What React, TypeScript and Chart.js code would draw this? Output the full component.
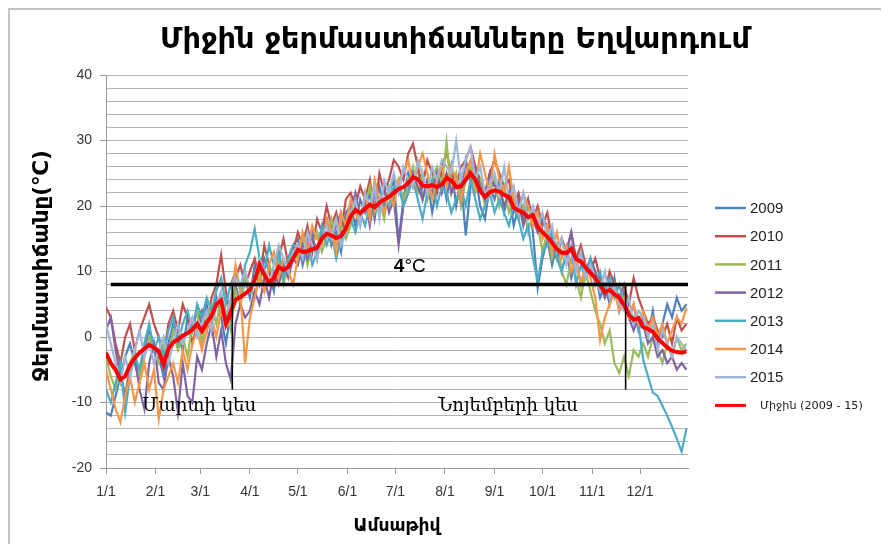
import React, { useEffect, useRef } from "react";
import { Chart, registerables } from "chart.js";

Chart.register(...registerables);

// ---------- data ----------
const SAMPLE_STEP_DAYS = 3;
const YEAR_END_DAY = 364;
const MONTH_LABELS = ["1/1", "2/1", "3/1", "4/1", "5/1", "6/1", "7/1", "8/1", "9/1", "10/1", "11/1", "12/1"];
const MONTH_START_DAYS = [0, 31, 59, 90, 120, 151, 181, 212, 243, 273, 304, 334];
const Y_MIN = -20;
const Y_MAX = 40;
const Y_STEP = 2;
const Y_LABEL_STEP = 10;

const SERIES_LABELS = ["2009", "2010", "2011", "2012", "2013", "2014", "2015"];
const SERIES_COLORS = ["#4F81BD", "#C0504D", "#9BBB59", "#8064A2", "#4BACC6", "#F79646", "#A0B7D9"];
const AVG_LABEL = "Միջին (2009 - 15)";
const AVG_COLOR = "#FF0000";

const T2009 = [
  -11.5, -12, -9, -6, -3, -1, -4, -7, -2, 1, -1,
  -3, -6, -1, 2, 0, -2, 3, 1, 4,
  2, 5, 1, 6, 3, -1, 4, 8, 5, 9,
  6, 11, 8, 12, 10, 7, 13, 9, 12, 14,
  15, 11, 14, 16, 12, 17, 18, 14, 16, 13, 19,
  20, 17, 21, 19, 22, 18, 23, 20, 22, 24,
  14.5, 21, 25, 23, 26, 21, 24, 19, 23, 25,
  21, 26, 20, 24, 15.5, 23, 25, 20, 18, 23, 21,
  24, 19, 22, 17, 20, 18, 21, 16, 7.5, 12,
  15, 11, 14, 10, 13, 9, 12, 8, 11, 10,
  10, 6, 8, 5, 9, 4, 7, 3, 5, 1,
  3, 0, 4, -1, 2, 5, 3, 6, 4, 5,
];
const T2010 = [
  4.5, 3, -1, -4, 0, 2, -2, 1, 3, 5, 2,
  0, -3, 2, 4, 1, 5, 3, -1, 2,
  4, 1, 6, 8, 12.5, 7, 3, 9, 11, 8,
  10, 12, 9, 14, 11, 8, 12, 15, 11, 13,
  16, 14, 17, 13, 18, 16, 20, 17, 19, 16, 21,
  22, 20, 23, 21, 24, 19, 25, 22, 24, 27,
  26, 24, 28, 29.5, 26, 23, 27, 25, 22, 26,
  28, 25, 23, 26, 27, 29, 26, 24, 22, 25, 27,
  25, 23, 24, 20, 22, 19, 21, 18, 20, 17,
  19, 15, 12, 15, 13, 16, 12, 14, 11, 10,
  12, 9, 7, 10, 8, 6, 8, 5, 9, 6,
  4, 2, 3, 1, 0, 2, -1, 3, 1, 2,
];
const T2011 = [
  -3, -6, -8, -5, -9, -4, -2, -6, -3, 0, -2,
  -4, -1, -3, 1, -2, 0, -3, 2, 4,
  -1, 3, 5, 2, 6, 4, 1, 7, 5, 9,
  8, 6, 10, 7, 11, 9, 12, 8, 11, 13,
  12, 15, 11, 14, 16, 13, 15, 18, 14, 17, 15,
  17, 21, 18, 20, 23, 19, 21, 18, 23, 21,
  24, 21, 23, 26, 22, 25, 21, 24, 26, 23,
  29.8, 22, 25, 20, 24, 26, 22, 24, 20, 22, 24,
  20, 23, 19, 21, 18, 20, 16, 19, 17, 13,
  16, 12, 14, 10, 8, 12, 9, 6, 10, 7,
  4, 2, -1, 1, -4, -5.5, -3, -6, -2, -3,
  -1, -3, 0, -2, -4, -1, -3, 0, -2, -1,
];
const T2012 = [
  1, 3, -2, -6, -9, -5, -3, -8, -11, -4, -1,
  -7, -8, -3, -6, -11.5, -4, -9, -10, -3,
  -5, -1, 2, -3, 1, -4, -6.5, 2, 5, 3,
  4, 7, 5, 9, 6, 10, 8, 11, 9, 12,
  11, 14, 12, 15, 13, 16, 18, 15, 17, 19, 16,
  19, 22, 18, 21, 17, 22, 20, 23, 19, 21,
  14, 20, 22, 25, 23, 21, 24, 22, 25, 22,
  25, 22, 24, 21, 27, 24, 26, 23, 21, 25, 23,
  23, 20, 22, 19, 21, 17, 20, 18, 16, 18,
  17, 14, 12, 15, 13, 16, 11, 13, 10, 12,
  10, 8, 6, 8, 7, 5, 6, 3, 1, 3,
  2, -1, 0, -3, -2, -4, -3, -5, -4, -5,
];
const T2013 = [
  -8, -10, -7, -4, -11.5, -6, -3, -5, -1, 2, -2,
  0, -3, 1, 3, -1, 2, 4, 1, 5,
  3, 6, 4, 7, 9, 5, 8, 10, 7, 11,
  13, 16.5, 12, 10, 14, 11, 13, 9, 12, 14,
  14, 12, 15, 11, 13, 17, 14, 16, 12, 15, 17,
  18, 16, 19, 17, 20, 22, 19, 21, 20, 23,
  23, 20, 22, 24, 21, 18, 22, 24, 20, 23,
  22, 19, 21, 23, 20, 24, 21, 18, 20, 22, 19,
  21, 19, 17, 20, 18, 15, 17, 12, 8.5, 13,
  14, 16, 12, 10, 13, 14, 8, 11, 9, 12,
  8, 10, 7, 9, 6, 8, 5, 4, 3, 2,
  -3.5, -6, -8.5, -9, -10.5, -12, -13.7, -15.5, -17.5, -14,
];
const T2014 = [
  -5, -8, -11, -13, -9, -6, -10, -7, -4, -8, -5,
  -12.5, -8, -6, -4, -7, -2, -5, -1, 1,
  -2, 1, 3, 0, 4, 2, 5, 11, 7, -4,
  3, 6, 9, 7, 11, 13, 9, 12, 10, 8,
  12, 16, 13, 17, 15, 14, 18, 16, 13, 19, 17,
  21, 19, 17, 22, 18, 24, 21, 19, 22, 20,
  24, 25, 27, 23, 26, 28, 25, 21, 24, 26,
  23, 26, 24, 21, 25, 27, 23, 28, 25, 22, 28,
  24, 22, 26, 21, 19, 22, 20, 17, 19, 15,
  17, 13, 16, 12, 14, 10, 12, 8, 11, 9,
  6, -0.5, 3, 5, 7, 4, 6, 3, 5, 2,
  4, 1, 3, 0, 2, -1, 1, 3, 2, 4.5,
];
const T2015 = [
  2, -1, -4, -7, -3, -6, -2, 1, -3, -1, -4,
  -2, 0, -4, -1, 2, -1, 1, 3, 0,
  2, 4, 1, 5, 7, 3, 6, 9, 8, 10,
  7, 9, 12, 10, 8, 11, 14, 12, 10, 13,
  14, 12, 16, 14, 12, 15, 17, 15, 18, 14, 16,
  19, 21, 17, 22, 20, 23, 18, 24, 22, 25,
  22, 26, 24, 23, 27, 25, 22, 26, 24, 27,
  26, 25, 30, 24, 27, 29, 24, 26, 22, 23, 25,
  22, 26, 21, 23, 19, 22, 18, 20, 17, 19,
  15, 17, 13, 15, 11, 14, 10, 13, 9, 11,
  9, 7, 10, 6, 8, 5, 4, 6, 2, 4,
  3, 0, 2, -2, 1, -1, -3, 0, -1, -2,
];
const T_AVG = [
  -2.4, -4.0, -5.0, -6.5, -6.0, -4.3, -3.2, -2.4, -1.8, -1.2, -1.6,
  -2.2, -4.2, -1.8, -0.8, -0.4, 0.2, 0.6, 1.1, 2.0,
  0.9, 2.2, 3.2, 5.0, 5.6, 2.0, 3.8, 5.7, 6.1, 6.6,
  7.2, 8.7, 11.0, 9.5, 8.3, 9.0, 10.7, 10.2, 10.7, 12.0,
  13.3, 13.0, 13.1, 13.4, 13.6, 15.0, 15.8, 15.5, 15.1, 15.4, 16.5,
  18.4, 19.4, 18.9, 19.6, 20.2, 19.8, 20.5, 21.0, 21.4, 22.0,
  22.6, 22.9, 23.5, 24.4, 24.1, 23.1, 23.0, 23.2, 22.9, 23.3,
  24.3, 23.9, 22.9, 23.0, 24.0, 25.0, 24.0, 22.3, 21.4, 22.1, 22.4,
  22.2, 21.7, 21.4, 19.8, 19.3, 19.0, 18.3, 18.6, 16.8, 16.0,
  15.3, 14.4, 13.4, 12.9, 12.8, 13.5, 11.9, 11.5, 10.6, 9.8,
  9.0, 7.9, 6.8, 7.2, 6.5, 6.0, 4.9, 3.4, 2.6, 2.9,
  1.5, 1.2, 0.8, -0.2, -0.9, -1.6, -2.1, -2.3, -2.4, -2.2,
];
const YEAR_SERIES = [T2009, T2010, T2011, T2012, T2013, T2014, T2015];

// reference markers
const THRESHOLD_TEMP = 8;
const THRESHOLD_START_DAY = 3;
const MARCH_MID_DAY = 79;
const NOV_MID_DAY = 325;
const MARKER_BOTTOM_TEMP = -8;

// texts
const TITLE = "Միջին ջերմաստիճանները Եղվարդում";
const Y_TITLE = "Ջերմաստիճանը(℃)";
const X_TITLE = "Ամսաթիվ";
const THRESHOLD_TEXT_BOLD = "4";
const THRESHOLD_TEXT_REST = "°C";
const THRESHOLD_TEXT_POS = { day: 190, temp: 9.9 };
const MARKER_TEXTS = [
  { text: "Մարտի կես", day: 58.3, temp: -11.3, width: 114 },
  { text: "Նոյեմբերի կես", day: 251.4, temp: -11.3, width: 140 },
];

const SANS = "'Liberation Sans', Arial, 'DejaVu Sans', sans-serif";
const ARM_SANS = "'DejaVu Sans', sans-serif";
const ARM_SERIF = "'DejaVu Serif', 'DejaVu Sans', serif";

const toPoints = (values: number[]) => values.map((v, i) => ({ x: i * SAMPLE_STEP_DAYS, y: v }));

function fitSize(ctx: CanvasRenderingContext2D, text: string, weight: string, family: string, target: number) {
  ctx.font = `${weight} 20px ${family}`;
  const w = ctx.measureText(text).width;
  return (20 * target) / w;
}

const decorPlugin = {
  id: "decor",
  afterDraw(chart: any) {
    const { ctx, chartArea, scales } = chart;
    const xs = scales.x;
    const ys = scales.y;
    ctx.save();
    ctx.fillStyle = "#000";

    // title
    let s = fitSize(ctx, TITLE, "bold", ARM_SANS, 590);
    ctx.font = `bold ${s}px ${ARM_SANS}`;
    ctx.textAlign = "center";
    ctx.textBaseline = "alphabetic";
    ctx.fillText(TITLE, 445, 38);

    // y title
    s = fitSize(ctx, Y_TITLE, "bold", ARM_SANS, 232);
    ctx.save();
    ctx.translate(38, 256);
    ctx.rotate(-Math.PI / 2);
    ctx.font = `bold ${s}px ${ARM_SANS}`;
    ctx.textAlign = "center";
    ctx.fillText(Y_TITLE, 0, 0);
    ctx.restore();

    // x title
    s = fitSize(ctx, X_TITLE, "bold", ARM_SANS, 87);
    ctx.font = `bold ${s}px ${ARM_SANS}`;
    ctx.textAlign = "center";
    ctx.fillText(X_TITLE, (chartArea.left + chartArea.right) / 2, 521);

    // threshold text
    ctx.font = `bold 19px ${SANS}`;
    const w1 = ctx.measureText(THRESHOLD_TEXT_BOLD).width;
    ctx.font = `19px ${SANS}`;
    const w2 = ctx.measureText(THRESHOLD_TEXT_REST).width;
    const cx = xs.getPixelForValue(THRESHOLD_TEXT_POS.day);
    const by = ys.getPixelForValue(THRESHOLD_TEXT_POS.temp);
    const startX = cx - (w1 + w2) / 2;
    ctx.textAlign = "left";
    ctx.font = `bold 19px ${SANS}`;
    ctx.fillText(THRESHOLD_TEXT_BOLD, startX, by);
    ctx.font = `19px ${SANS}`;
    ctx.fillText(THRESHOLD_TEXT_REST, startX + w1, by);

    // marker texts
    for (const m of MARKER_TEXTS) {
      const fs = fitSize(ctx, m.text, "normal", ARM_SERIF, m.width);
      ctx.font = `normal ${fs}px ${ARM_SERIF}`;
      ctx.textAlign = "center";
      ctx.fillText(m.text, xs.getPixelForValue(m.day), ys.getPixelForValue(m.temp));
    }

    // legend
    const lx = chartArea.right + 27;
    const top = 198;
    const gap = 28.2;
    const entries = chart.data.datasets.filter((d: any) => d.showInLegend);
    entries.sort((a: any, b: any) => a.legendIndex - b.legendIndex);
    entries.forEach((d: any, i: number) => {
      const y = top + i * gap;
      ctx.strokeStyle = d.borderColor;
      ctx.lineWidth = d.legendIndex === 7 ? 3 : 2.5;
      ctx.beginPath();
      ctx.moveTo(lx, y);
      ctx.lineTo(lx + 31, y);
      ctx.stroke();
      ctx.fillStyle = "#222";
      ctx.textAlign = "left";
      ctx.textBaseline = "middle";
      if (d.legendIndex === 7) {
        const fs = fitSize(ctx, d.label, "normal", ARM_SANS, 103);
        ctx.font = `${fs}px ${ARM_SANS}`;
        ctx.fillText(d.label, lx + 45, y + 1);
      } else {
        ctx.font = `15px ${SANS}`;
        ctx.fillText(d.label, lx + 35, y + 1);
      }
    });
    ctx.restore();
  },
};

export default function App() {
  const ref = useRef<HTMLCanvasElement>(null);
  useEffect(() => {
    const canvas = ref.current!;
    const yearSets = YEAR_SERIES.map((vals, k) => ({
      label: SERIES_LABELS[k],
      data: toPoints(vals),
      borderColor: SERIES_COLORS[k],
      backgroundColor: SERIES_COLORS[k],
      borderWidth: 2.2,
      pointRadius: 0,
      tension: 0,
      fill: false,
      order: 8 - k,
      showInLegend: true,
      legendIndex: k,
    }));
    const avgSet = {
      label: AVG_LABEL,
      data: toPoints(T_AVG),
      borderColor: AVG_COLOR,
      backgroundColor: AVG_COLOR,
      borderWidth: 4,
      pointRadius: 0,
      tension: 0,
      fill: false,
      order: 1,
      showInLegend: true,
      legendIndex: 7,
    };
    const refLine = (pts: { x: number; y: number }[], w: number) => ({
      label: "",
      data: pts,
      borderColor: "#000",
      backgroundColor: "#000",
      borderWidth: w,
      pointRadius: 0,
      tension: 0,
      fill: false,
      order: 0,
      showInLegend: false,
    });
    const chart = new Chart(canvas, {
      type: "line",
      data: {
        datasets: [
          ...yearSets,
          avgSet,
          refLine([{ x: THRESHOLD_START_DAY, y: THRESHOLD_TEMP }, { x: YEAR_END_DAY, y: THRESHOLD_TEMP }], 3.5),
          refLine([{ x: MARCH_MID_DAY, y: THRESHOLD_TEMP }, { x: MARCH_MID_DAY, y: MARKER_BOTTOM_TEMP }], 1.6),
          refLine([{ x: NOV_MID_DAY, y: THRESHOLD_TEMP }, { x: NOV_MID_DAY, y: MARKER_BOTTOM_TEMP }], 1.6),
        ] as any,
      },
      options: {
        responsive: true,
        maintainAspectRatio: false,
        animation: false,
        layout: { padding: { left: 0, right: 201, top: 65, bottom: 0 } },
        plugins: {
          legend: { display: false },
          title: { display: false },
          tooltip: { enabled: false },
        },
        scales: {
          x: {
            type: "linear",
            min: 0,
            max: YEAR_END_DAY,
            afterBuildTicks: (s: any) => {
              s.ticks = MONTH_START_DAYS.map((v) => ({ value: v }));
            },
            afterFit: (s: any) => {
              s.height = 76;
            },
            ticks: {
              autoSkip: false,
              maxRotation: 0,
              minRotation: 0,
              padding: 10,
              color: "#333",
              font: { family: SANS, size: 14 },
              callback: (v: any) => {
                const idx = MONTH_START_DAYS.indexOf(Number(v));
                return idx >= 0 ? MONTH_LABELS[idx] : "";
              },
            },
            grid: { display: true, drawOnChartArea: false, drawTicks: true, tickLength: 6, color: "#9a9a9a", tickColor: "#9a9a9a" },
            border: { display: true, color: "#9a9a9a", width: 1 },
          },
          y: {
            min: Y_MIN,
            max: Y_MAX,
            afterFit: (s: any) => {
              s.width = 96;
            },
            ticks: {
              stepSize: Y_STEP,
              autoSkip: false,
              padding: 8,
              color: "#333",
              font: { family: SANS, size: 14 },
              callback: (v: any) => (Number(v) % Y_LABEL_STEP === 0 ? String(v) : ""),
            },
            grid: {
              color: "#b4b4b4",
              lineWidth: 1,
              tickLength: 6,
              tickColor: (c: any) => (c.tick && c.tick.value % Y_LABEL_STEP === 0 ? "#9a9a9a" : "rgba(0,0,0,0)"),
            },
            border: { display: true, color: "#9a9a9a", width: 1 },
          },
        },
      } as any,
      plugins: [decorPlugin],
    });
    return () => chart.destroy();
  }, []);
  return (
    <div
      style={{
        width: 879,
        height: 534,
        borderTop: "2px solid #c4c4c4",
        borderLeft: "2px solid #c4c4c4",
        position: "relative",
        overflow: "hidden",
      }}
    >
      <canvas ref={ref} />
    </div>
  );
}
